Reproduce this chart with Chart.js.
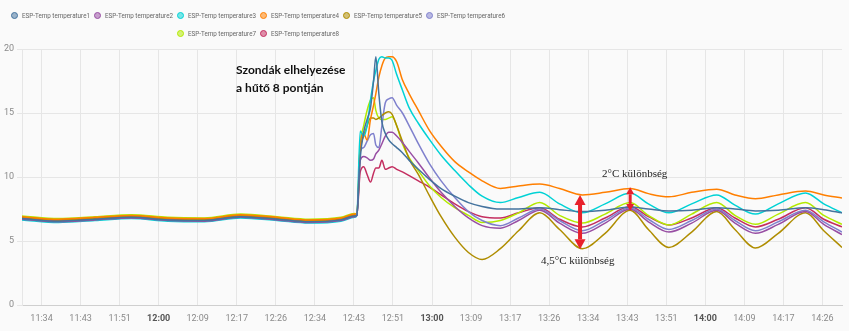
<!DOCTYPE html>
<html>
<head>
<meta charset="utf-8">
<script src="https://cdn.jsdelivr.net/npm/chart.js@4.4.1/dist/chart.umd.min.js"></script>
<style>
    html, body { margin: 0; padding: 0; background: #fafafa; }
    #wrap { position: relative; width: 849px; height: 331px; }
    #legend {
        position: absolute; left: 0; top: 7px; width: 512px;
        display: flex; flex-wrap: wrap; justify-content: center;
        font-family: Roboto, sans-serif; font-size: 7.4px; color: #666;
    }
    #legend .item { width: 83px; height: 17.4px; display: flex; align-items: center; white-space: nowrap; }
    #legend .dot { flex: none; width: 5px; height: 5px; border-radius: 50%; border: 1px solid; margin: 0 4px 0 4px; }
    #legend .txt { display: inline-block; transform: scaleX(0.85); transform-origin: left center; }
</style>
</head>
<body>
<div id="wrap">
    <canvas id="tempChart" width="849" height="331"></canvas>
    <div id="legend"></div>
</div>
<script>
// --- Data (°C) ---
const seriesNames = [
    'ESP-Temp temperature1', 'ESP-Temp temperature2', 'ESP-Temp temperature3', 'ESP-Temp temperature4',
    'ESP-Temp temperature5', 'ESP-Temp temperature6', 'ESP-Temp temperature7', 'ESP-Temp temperature8'
];
const seriesColors = ['#44739e', '#984ea3', '#00d2d5', '#ff7f00', '#af8d00', '#7f80cd', '#b3e900', '#c42e60'];

// sample times (HH:MM or HH:MM:SS)
const times = [
    '11:30', '11:38', '11:46', '11:54', '12:02', '12:10', '12:18', '12:26', '12:33', '12:40', '12:43',
    '12:43:30', '12:44:15', '12:45:00', '12:45:45', '12:46:30', '12:47:10', '12:47:40', '12:48:20', '12:49:00',
    '12:49:45', '12:50:30', '12:51:15', '12:52:15', '12:53:30', '12:55:00', '12:57:00', '12:59:30', '13:02:00',
    '13:05:00', '13:08:00', '13:11:00', '13:15:00',
    '13:19', '13:23:40', '13:28', '13:33', '13:38', '13:43:30', '13:47:30', '13:52', '13:57', '14:02:30',
    '14:06:30', '14:11', '14:16', '14:22', '14:26', '14:30'
];

const temp1 = [6.75, 6.55, 6.7, 6.85, 6.65, 6.6, 6.9, 6.7, 6.5, 6.65, 6.95,
    7.0, 11.5, 13.5, 14.5, 15.4, 17.5, 19.4, 16.5, 14.3, 13.4, 12.9, 12.6, 12.3, 11.9, 11.3, 10.6, 9.8, 9.1, 8.5, 8.0, 7.7, 7.5,
    7.5, 7.6, 7.45, 7.3, 7.4, 7.65, 7.5, 7.35, 7.4, 7.6, 7.5, 7.35, 7.4, 7.6, 7.45, 7.2];
const temp2 = [6.7, 6.5, 6.65, 6.8, 6.6, 6.55, 6.85, 6.65, 6.45, 6.6, 6.9,
    7.0, 11.3, 11.6, 11.5, 11.3, 11.4, 11.8, 12.1, 12.6, 13.2, 13.5, 13.5, 13.2, 12.7, 12.0, 11.1, 9.9, 8.8, 7.7, 6.8, 6.2, 6.0,
    6.6, 7.4, 6.4, 5.6, 6.4, 7.5, 6.5, 5.7, 6.4, 7.4, 6.4, 5.6, 6.3, 7.3, 6.3, 5.5];
const temp3 = [6.65, 6.45, 6.6, 6.75, 6.55, 6.5, 6.8, 6.6, 6.4, 6.55, 6.85,
    7.0, 13.6, 13.2, 14.0, 16.0, 17.5, 18.3, 19.2, 19.4, 19.3, 19.3, 19.1, 18.0, 16.8, 15.4, 14.2, 12.9, 11.7, 10.5, 9.4, 8.5, 8.0,
    8.4, 8.8, 7.9, 7.2, 7.9, 8.75, 7.9, 7.2, 7.9, 8.6, 7.8, 7.1, 7.9, 8.75, 7.9, 7.2];
const temp4 = [6.9, 6.7, 6.85, 7.0, 6.8, 6.75, 7.05, 6.85, 6.65, 6.8, 7.1,
    7.1, 12.5, 13.4, 12.9, 14.5, 15.6, 16.5, 17.8, 18.7, 19.3, 19.4, 19.4, 19.0, 17.6, 16.5, 15.2, 13.6, 12.4, 11.2, 10.4, 9.7, 9.1,
    9.3, 9.45, 9.1, 8.6, 8.8, 9.1, 8.7, 8.45, 8.8, 9.05, 8.6, 8.3, 8.6, 8.9, 8.6, 8.35];
const temp5 = [6.85, 6.65, 6.8, 6.95, 6.75, 6.7, 7.0, 6.8, 6.6, 6.75, 7.05,
    7.0, 12.0, 13.2, 14.0, 14.6, 14.6, 14.5, 14.6, 14.8, 15.0, 15.1, 14.9, 14.0, 12.8, 11.4, 10.2, 8.5, 6.9, 5.3, 4.1, 3.55, 4.4,
    5.8, 7.2, 5.9, 4.4, 5.6, 7.4, 5.9, 4.5, 5.7, 7.3, 5.9, 4.45, 5.6, 7.2, 5.8, 4.5];
const temp6 = [6.72, 6.52, 6.67, 6.82, 6.62, 6.57, 6.87, 6.67, 6.47, 6.62, 6.92,
    7.0, 12.0, 12.3, 12.8, 13.3, 13.4, 12.5, 12.3, 14.0, 15.8, 16.1, 16.2, 15.6, 15.0, 14.0, 12.6, 11.0, 9.7, 8.4, 7.3, 6.6, 6.2,
    6.8, 7.5, 6.6, 5.8, 6.6, 7.6, 6.7, 5.9, 6.6, 7.5, 6.6, 5.8, 6.5, 7.4, 6.5, 5.7];
const temp7 = [6.95, 6.75, 6.9, 7.05, 6.85, 6.8, 7.1, 6.9, 6.7, 6.85, 7.15,
    7.1, 12.5, 14.0, 15.2, 16.0, 16.2, 15.2, 14.6, 14.5, 14.5, 14.6, 14.7, 14.0, 12.6, 11.5, 10.5, 9.3, 8.4, 7.6, 7.0, 6.45, 6.6,
    7.2, 8.0, 7.0, 6.4, 7.1, 8.0, 7.0, 6.25, 7.1, 8.0, 7.0, 6.3, 7.1, 8.0, 7.0, 6.3];
const temp8 = [6.8, 6.6, 6.75, 6.9, 6.7, 6.65, 6.95, 6.75, 6.55, 6.7, 7.0,
    7.0, 10.4, 10.8, 10.2, 9.6, 10.3, 10.7, 10.7, 11.3, 10.6, 10.7, 10.8, 10.6, 10.4, 10.1, 9.7, 9.2, 8.6, 7.9, 7.3, 6.9, 6.8,
    7.2, 7.6, 6.7, 6.1, 6.8, 7.7, 6.9, 6.25, 6.8, 7.6, 6.8, 6.1, 6.7, 7.6, 6.7, 6.1];
const seriesValues = [temp1, temp2, temp3, temp4, temp5, temp6, temp7, temp8];

// "HH:MM[:SS]" -> minutes since midnight
function toMinutes(t) {
    const p = t.split(':').map(Number);
    return p[0] * 60 + p[1] + (p[2] || 0) / 60;
}
function fmt(m) {
    const r = Math.round(m);
    return Math.floor(r / 60) + ':' + String(r % 60).padStart(2, '0');
}
function isHour(v) {
    return Math.abs(v - Math.round(v / 60) * 60) < 0.01;
}

// Draws the hand-made notes and the red difference arrows on top of the lines.
const notesPlugin = {
    id: 'notes',
    afterDatasetsDraw(chart) {
        const { ctx, scales: { x, y } } = chart;
        ctx.save();

        ctx.fillStyle = '#111';
        ctx.font = 'bold 12px Lato, sans-serif';
        ctx.textBaseline = 'middle';
        ctx.textAlign = 'left';
        ctx.fillText('Szondák elhelyezése', x.getPixelForValue(toMinutes('12:17')), y.getPixelForValue(18.35));
        ctx.fillText('a hűtő 8 pontján', x.getPixelForValue(toMinutes('12:17')), y.getPixelForValue(16.95));

        const arrow = (t, v1, v2, head, shaft) => {
            const px = x.getPixelForValue(toMinutes(t));
            const top = y.getPixelForValue(v1), bot = y.getPixelForValue(v2);
            ctx.fillStyle = '#e8212b';
            ctx.fillRect(px - shaft / 2, top + head, shaft, bot - top - 2 * head);
            ctx.beginPath();
            ctx.moveTo(px, top); ctx.lineTo(px - head / 2 - 0.5, top + head); ctx.lineTo(px + head / 2 + 0.5, top + head);
            ctx.closePath(); ctx.fill();
            ctx.beginPath();
            ctx.moveTo(px, bot); ctx.lineTo(px - head / 2 - 0.5, bot - head); ctx.lineTo(px + head / 2 + 0.5, bot - head);
            ctx.closePath(); ctx.fill();
        };
        arrow('13:32:30', 8.6, 4.35, 10, 4);
        arrow('13:43:30', 9.2, 7.35, 7, 3);

        ctx.fillStyle = '#222';
        ctx.font = '11px "Liberation Serif", serif';
        ctx.textAlign = 'center';
        ctx.fillText('2°C különbség', x.getPixelForValue(toMinutes('13:44:30')), y.getPixelForValue(10.2));
        ctx.fillText('4,5°C különbség', x.getPixelForValue(toMinutes('13:32')), y.getPixelForValue(3.45));
        ctx.restore();
    }
};

document.addEventListener('DOMContentLoaded', () => {
    const ctx = document.getElementById('tempChart').getContext('2d');
    const xs = times.map(toMinutes);

    const chart = new Chart(ctx, {
        type: 'line',
        data: {
            datasets: seriesNames.map((name, i) => ({
                label: name,
                data: seriesValues[i].map((v, j) => ({ x: xs[j], y: v })),
                borderColor: seriesColors[i],
                backgroundColor: seriesColors[i],
                borderWidth: 1.5,
                pointRadius: 0,
                cubicInterpolationMode: 'monotone'
            }))
        },
        options: {
            responsive: false,
            animation: false,
            layout: { padding: { top: 49, right: 7, left: 0, bottom: 0 } },
            plugins: { legend: { display: false }, tooltip: { enabled: false } },
            scales: {
                x: {
                    type: 'linear',
                    min: toMinutes('11:30'),
                    max: toMinutes('14:30'),
                    afterBuildTicks: (axis) => {
                        // ticks every 1/7 hour, anchored on the full hours
                        const step = 60 / 7, start = toMinutes('12:00');
                        const ticks = [];
                        for (let k = -3; start + k * step < axis.max - 1; k++) {
                            ticks.push({ value: start + k * step });
                        }
                        axis.ticks = ticks;
                    },
                    afterFit: (axis) => { axis.height = 26; },
                    grid: { color: '#e6e6e6', drawTicks: false },
                    border: { color: '#cfcfcf' },
                    ticks: {
                        autoSkip: false,
                        maxRotation: 0,
                        padding: 8,
                        callback: (v) => fmt(v),
                        color: (c) => (c.tick && isHour(c.tick.value) ? '#555' : '#8a8a8a'),
                        font: (c) => ({
                            family: 'Roboto, sans-serif',
                            size: 9,
                            weight: c.tick && isHour(c.tick.value) ? 'bold' : 'normal'
                        })
                    }
                },
                y: {
                    min: 0,
                    max: 20,
                    afterFit: (axis) => { axis.width = 22; },
                    grid: { color: '#e6e6e6', tickLength: 5 },
                    border: { color: '#e6e6e6' },
                    ticks: {
                        stepSize: 5,
                        padding: 3,
                        color: '#8a8a8a',
                        font: { family: 'Roboto, sans-serif', size: 9 }
                    }
                }
            }
        },
        plugins: [notesPlugin]
    });

    // HTML legend built from the chart's datasets
    const legend = document.getElementById('legend');
    chart.data.datasets.forEach((ds) => {
        const item = document.createElement('div');
        item.className = 'item';
        const dot = document.createElement('span');
        dot.className = 'dot';
        dot.style.borderColor = ds.borderColor;
        dot.style.background = ds.borderColor + '88';
        const txt = document.createElement('span');
        txt.className = 'txt';
        txt.textContent = ds.label;
        item.appendChild(dot);
        item.appendChild(txt);
        legend.appendChild(item);
    });
});
</script>
</body>
</html>
